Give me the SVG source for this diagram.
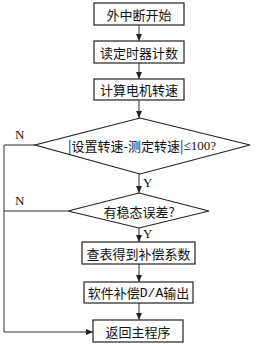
<svg xmlns="http://www.w3.org/2000/svg" width="257" height="344" viewBox="0 0 257 344">
<style>
.b{fill:#fff;stroke:#222;stroke-width:1.2}
.l{fill:none;stroke:#333;stroke-width:1}
.t{font-family:"Noto Sans CJK SC","Noto Sans CJK JP",sans-serif;font-size:13px;fill:#111;text-anchor:middle;dominant-baseline:central}
.s{font-family:"Liberation Serif",serif;font-size:13px;fill:#111}
</style>
<defs>
<marker id="a" markerWidth="8" markerHeight="8" refX="7" refY="4" orient="auto" markerUnits="userSpaceOnUse">
<path d="M0,1 L7,4 L0,7 Z" fill="#222"/>
</marker>
</defs>
<rect width="257" height="344" fill="#fff"/>
<g id="connectors">
<line class="l" x1="139" y1="25" x2="139" y2="41" marker-end="url(#a)"/>
<line class="l" x1="139" y1="63" x2="139" y2="79" marker-end="url(#a)"/>
<line class="l" x1="139" y1="100" x2="139" y2="118" marker-end="url(#a)"/>
<line class="l" x1="139" y1="174" x2="139" y2="193" marker-end="url(#a)"/>
<line class="l" x1="139" y1="228" x2="139" y2="242" marker-end="url(#a)"/>
<line class="l" x1="139" y1="264" x2="139" y2="282" marker-end="url(#a)"/>
<line class="l" x1="139" y1="303" x2="139" y2="320" marker-end="url(#a)"/>
<polyline class="l" points="35,145 4,145 4,332 93,332" marker-end="url(#a)"/>
<line class="l" x1="68" y1="211" x2="4" y2="211"/>
<text class="s" x="143" y="187">Y</text>
<text class="s" x="143" y="238">Y</text>
<text class="s" x="15" y="139">N</text>
<text class="s" x="15" y="205">N</text>
</g>
<g id="n1"><rect class="b" x="94" y="3" width="90" height="22"/><text class="t" x="139" y="14">外中断开始</text></g>
<g id="n2"><rect class="b" x="94" y="41" width="90" height="22"/><text class="t" x="139" y="52">读定时器计数</text></g>
<g id="n3"><rect class="b" x="94" y="79" width="90" height="21"/><text class="t" x="139" y="89.5">计算电机转速</text></g>
<g id="d1"><polygon class="b" points="140,118 250,145 140,174 35,145"/><text class="t" x="142" y="145"><tspan>|设置转速-测定转速|</tspan><tspan font-family="Liberation Serif,serif">≤100?</tspan></text></g>
<g id="d2"><polygon class="b" points="139,193 209,211 139,228 68,211"/><text class="t" x="139" y="211">有稳态误差?</text></g>
<g id="n4"><rect class="b" x="82" y="242" width="113" height="22"/><text class="t" x="138.5" y="253">查表得到补偿系数</text></g>
<g id="n5"><rect class="b" x="84" y="282" width="109" height="21"/><text class="t" x="138.5" y="292.5">软件补偿<tspan font-family="Liberation Mono,monospace">D/A</tspan>输出</text></g>
<g id="n6"><rect class="b" x="93" y="320" width="90" height="22"/><text class="t" x="138" y="331">返回主程序</text></g>
</svg>
